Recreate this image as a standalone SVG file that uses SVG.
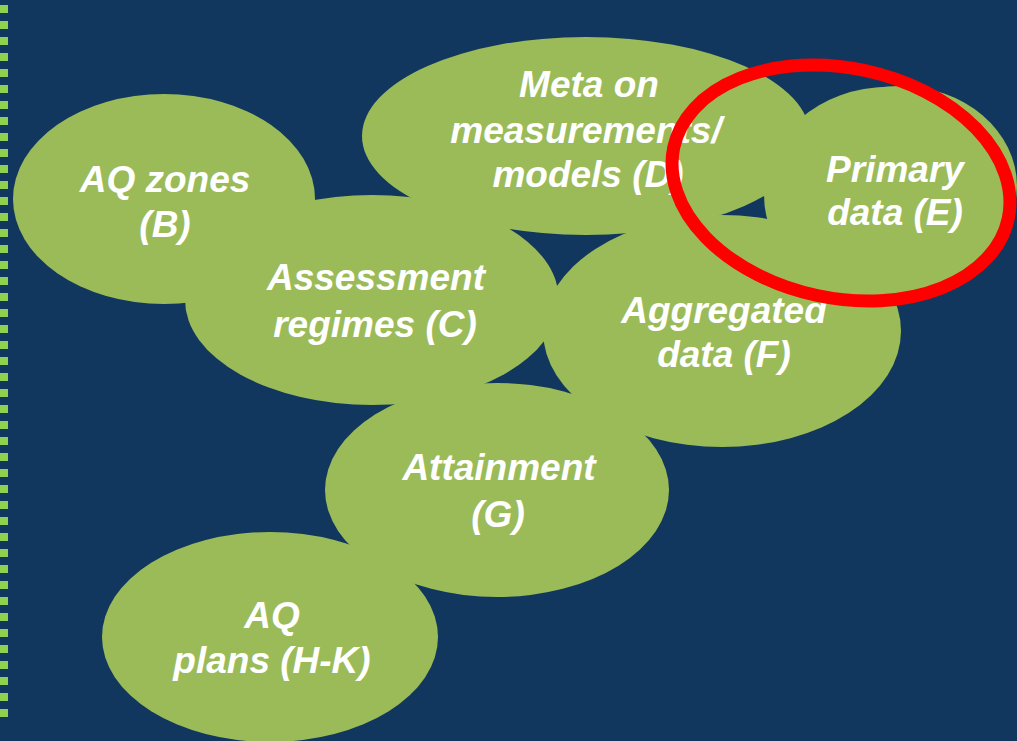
<svg xmlns="http://www.w3.org/2000/svg" width="1017" height="741" viewBox="0 0 1017 741">
  <style>
    .bubble { fill: #9BBB59; }
    .label { font-family: "Liberation Sans", Arial, sans-serif; font-size: 37px; font-weight: bold; font-style: italic; fill: #FFFFFF; text-anchor: middle; }
    .highlight { fill: none; stroke: #FF0000; stroke-width: 13; }
  </style>
  <rect x="0" y="0" width="1017" height="741" fill="#12375E"/>
  <line x1="4" y1="5" x2="4" y2="718" stroke="#92D050" stroke-width="8" stroke-dasharray="8 8"/>

  <g id="node-B">
    <ellipse class="bubble" cx="164" cy="199" rx="151" ry="105"/>
    <text class="label" x="165" y="192">AQ zones</text>
    <text class="label" x="165" y="237">(B)</text>
  </g>
  <g id="node-D">
    <ellipse class="bubble" cx="586" cy="136" rx="224" ry="99"/>
    <text class="label" x="589" y="97">Meta on</text>
    <text class="label" x="586" y="143">measurements/</text>
    <text class="label" x="588" y="187">models (D)</text>
  </g>
  <g id="node-E">
    <ellipse class="bubble" cx="899" cy="186" rx="118" ry="100"/>
    <ellipse class="bubble" cx="888" cy="195" rx="124" ry="108"/>
    <text class="label" x="895" y="182">Primary</text>
    <text class="label" x="895" y="225">data (E)</text>
  </g>
  <g id="node-C">
    <ellipse class="bubble" cx="372" cy="300" rx="187" ry="105"/>
    <text class="label" x="376" y="290">Assessment</text>
    <text class="label" x="375" y="337">regimes (C)</text>
  </g>
  <g id="node-F">
    <ellipse class="bubble" cx="722" cy="331" rx="179" ry="116"/>
    <text class="label" x="724" y="323">Aggregated</text>
    <text class="label" x="724" y="367">data (F)</text>
  </g>
  <g id="node-G">
    <ellipse class="bubble" cx="497" cy="490" rx="172" ry="107"/>
    <text class="label" x="499" y="480">Attainment</text>
    <text class="label" x="498" y="527">(G)</text>
  </g>
  <g id="node-H">
    <ellipse class="bubble" cx="270" cy="637" rx="168" ry="105"/>
    <text class="label" x="272" y="628">AQ</text>
    <text class="label" x="272" y="673">plans (H-K)</text>
  </g>

  <g id="connectors"></g>

  <g id="highlight">
    <ellipse class="highlight" cx="841" cy="183" rx="171" ry="115" transform="rotate(12 841 183)"/>
  </g>
</svg>
